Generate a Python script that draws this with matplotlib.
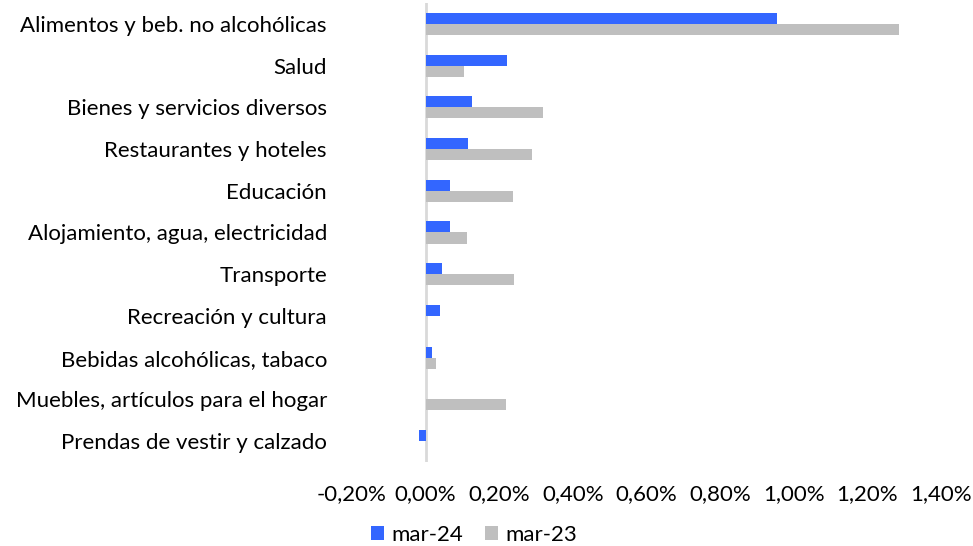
import matplotlib
matplotlib.use("Agg")
import matplotlib.pyplot as plt
import numpy as np
from matplotlib.ticker import FuncFormatter

plt.rcParams['font.family'] = ['Lato', 'DejaVu Sans']

categories = [
    "Alimentos y beb. no alcohólicas",
    "Salud",
    "Bienes y servicios diversos",
    "Restaurantes y hoteles",
    "Educación",
    "Alojamiento, agua, electricidad",
    "Transporte",
    "Recreación y cultura",
    "Bebidas alcohólicas, tabaco",
    "Muebles, artículos para el hogar",
    "Prendas de vestir y calzado",
]
mar24 = [0.954, 0.220, 0.127, 0.115, 0.067, 0.066, 0.044, 0.039, 0.018, 0.0, -0.017]
mar23 = [1.287, 0.103, 0.320, 0.289, 0.237, 0.112, 0.241, 0.0, 0.028, 0.218, 0.0]
series_labels = ["mar-24", "mar-23"]
colors = ["#3366FF", "#BFBFBF"]

fig = plt.figure(figsize=(9.73, 5.46), dpi=100)
ax = fig.add_axes([352/973, 1-462/546, (941-352)/973, (462-3)/546])

y = np.arange(len(categories))
h = 0.265
ax.barh(y - h/2, mar24, height=h, color=colors[0], label=series_labels[0])
ax.barh(y + h/2, mar23, height=h, color=colors[1], label=series_labels[1])

ax.set_xlim(-0.2, 1.4)
ax.set_ylim(len(categories) - 0.5, -0.5)
ax.set_xticks(np.arange(-0.2, 1.41, 0.2))
ax.xaxis.set_major_formatter(FuncFormatter(lambda v, p: f"{v:.2f}%".replace(".", ",").replace("-0,00", "0,00")))
ax.set_yticks(y)
ax.set_yticklabels(categories)

for s in ax.spines.values():
    s.set_visible(False)
ax.axvline(0, color="#D9D9D9", lw=2, zorder=0)
ax.tick_params(axis='both', length=0, labelsize=16, colors="#000000")
ax.tick_params(axis='y', pad=18)
ax.tick_params(axis='x', pad=16)

fig.legend(loc='center', bbox_to_anchor=(474/973, 1-535/546), ncol=2, frameon=False,
           fontsize=16, handlelength=0.6, handleheight=0.6, handletextpad=0.3, columnspacing=1.0)

fig.savefig("out.png", dpi=100)
